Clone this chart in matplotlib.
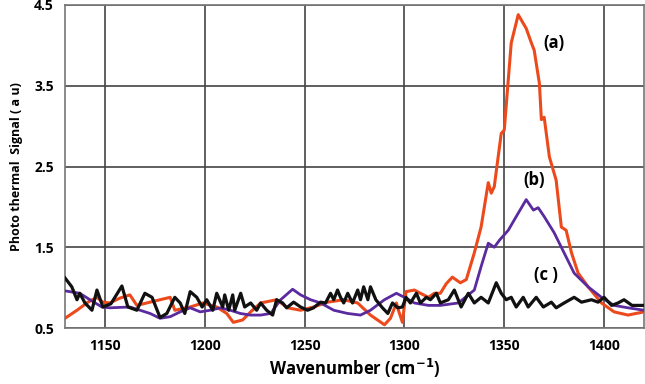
import matplotlib.pyplot as plt

# Photothermal spectra
wn_a = [1130, 1136, 1141.5, 1146, 1149, 1152.5, 1157.5, 1162.5, 1166, 1172.6, 1177.6,
        1182.7, 1185, 1192.7, 1199, 1206, 1211, 1214.3, 1219, 1223, 1228, 1236, 1241.5,
        1248, 1254.5, 1261.5, 1269.6, 1276.6, 1283, 1290, 1293, 1296, 1297, 1299, 1300.8,
        1305, 1308, 1312, 1315, 1318, 1321, 1324, 1328, 1331, 1335, 1338.4, 1342, 1343.5,
        1345, 1348.5, 1350, 1353.5, 1357, 1361, 1363.6, 1365, 1367.6, 1368.6, 1370, 1372.6,
        1376, 1378.6, 1381, 1383.7, 1387, 1392, 1398.7, 1405, 1412, 1420]
sig_a = [0.62, 0.72, 0.82, 0.88, 0.82, 0.81, 0.87, 0.91, 0.78, 0.82, 0.85,
         0.88, 0.72, 0.76, 0.81, 0.76, 0.68, 0.57, 0.60, 0.70, 0.81, 0.85, 0.75,
         0.72, 0.76, 0.82, 0.85, 0.81, 0.66, 0.54, 0.62, 0.81, 0.72, 0.57, 0.95,
         0.97, 0.93, 0.88, 0.93, 0.93, 1.05, 1.13, 1.06, 1.10, 1.43, 1.75, 2.30, 2.17,
         2.25, 2.91, 2.95, 4.03, 4.38, 4.21, 4.03, 3.94, 3.53, 3.08, 3.11, 2.62,
         2.33, 1.75, 1.71, 1.43, 1.18, 1.01, 0.81, 0.70, 0.66, 0.70]

wn_b = [1130, 1137.4, 1142.5, 1148.5, 1152.5, 1162.5, 1167.6, 1172.6, 1177.6, 1182.7,
        1187.7, 1192.7, 1197.7, 1202.8, 1207.8, 1212.8, 1217.8, 1222.9, 1228, 1233, 1238,
        1244, 1248, 1253, 1258, 1264.6, 1271.6, 1278, 1283, 1290, 1296, 1300, 1305, 1312,
        1318, 1327, 1335, 1338.4, 1342, 1345, 1347.7, 1352, 1356, 1361, 1364.6, 1367, 1370,
        1375, 1380, 1385, 1392, 1398.7, 1405, 1412, 1420]
sig_b = [0.96, 0.93, 0.85, 0.76, 0.75, 0.76, 0.72, 0.68, 0.62, 0.64,
         0.70, 0.75, 0.70, 0.72, 0.75, 0.72, 0.68, 0.66, 0.66, 0.68, 0.85,
         0.98, 0.91, 0.85, 0.81, 0.72, 0.68, 0.66, 0.72, 0.85, 0.93, 0.88, 0.81, 0.78,
         0.78, 0.81, 0.97, 1.26, 1.55, 1.50, 1.59, 1.71, 1.88, 2.09, 1.96, 1.99, 1.88,
         1.68, 1.43, 1.18, 1.01, 0.88, 0.78, 0.75, 0.72]

wn_c = [1130, 1133.4, 1136, 1137.4, 1140, 1143.5, 1146, 1149, 1153, 1158.5, 1161.5, 1166,
        1170, 1173.6, 1177.6, 1181, 1185, 1187.7, 1190, 1192.7, 1196, 1198.7, 1201, 1204,
        1206, 1209, 1210, 1212, 1214, 1215, 1218, 1220, 1223, 1226, 1228, 1231, 1234, 1236,
        1239, 1241, 1244.5, 1248, 1251.5, 1254.5, 1258, 1260.5, 1263, 1264.6, 1266.5, 1268,
        1269.6, 1271.6, 1274, 1276.6, 1278, 1279.6, 1281.7, 1283, 1285.7, 1289, 1291.7, 1294,
        1296.7, 1299, 1300.8, 1303, 1306, 1308, 1311, 1313, 1316, 1318, 1322, 1325, 1328.4,
        1332, 1335, 1338.4, 1342, 1346, 1348.5, 1351, 1353.5, 1356, 1359.5, 1362, 1366,
        1369.6, 1373.6, 1376, 1380, 1385, 1388.7, 1393.7, 1397, 1400, 1403.8, 1407, 1410,
        1414, 1420]
sig_c = [1.12, 1.01, 0.85, 0.93, 0.81, 0.72, 0.97, 0.76, 0.80, 1.02, 0.76, 0.72,
         0.93, 0.88, 0.63, 0.68, 0.88, 0.81, 0.68, 0.95, 0.88, 0.76, 0.85, 0.72,
         0.93, 0.76, 0.91, 0.72, 0.91, 0.72, 0.93, 0.76, 0.81, 0.72, 0.81, 0.72, 0.66, 0.85,
         0.81, 0.75, 0.82, 0.76, 0.72, 0.75, 0.82, 0.81, 0.93, 0.85, 0.97, 0.88,
         0.81, 0.93, 0.81, 0.97, 0.85, 1.01, 0.85, 1.01, 0.85, 0.75, 0.68, 0.81,
         0.75, 0.76, 0.88, 0.81, 0.93, 0.81, 0.88, 0.85, 0.93, 0.81, 0.85, 0.97, 0.76,
         0.93, 0.81, 0.88, 0.81, 1.06, 0.93, 0.85, 0.88, 0.76, 0.88, 0.76, 0.88,
         0.76, 0.82, 0.75, 0.81, 0.88, 0.82, 0.85, 0.82, 0.88, 0.78, 0.81, 0.85,
         0.78, 0.78]

x_ticks = [1150, 1200, 1250, 1300, 1350, 1400]
y_ticks = [0.5, 1.5, 2.5, 3.5, 4.5]

plt.rcParams['font.family'] = ['Open Sans', 'DejaVu Sans']

fig = plt.figure(figsize=(6.45, 3.84), dpi=100)
ax = fig.add_axes([65 / 645, 1 - 328 / 384, 579 / 645, 323 / 384])

ax.plot(wn_a, sig_a, color='#ec4a1c', lw=2.2, zorder=3)
ax.plot(wn_b, sig_b, color='#5a2a9e', lw=2.0, zorder=4)
ax.plot(wn_c, sig_c, color='#111111', lw=2.3, zorder=5)

ax.text(1375, 4.03, '(a)', fontsize=12, fontweight='bold', ha='center', va='center')
ax.text(1365, 2.33, '(b)', fontsize=12, fontweight='bold', ha='center', va='center')
ax.text(1371, 1.16, '(c )', fontsize=12, fontweight='bold', ha='center', va='center')

ax.set_xlim(1130, 1420)
ax.set_ylim(0.5, 4.5)
ax.set_xticks(x_ticks)
ax.set_yticks(y_ticks)
ax.set_xticklabels([str(t) for t in x_ticks], fontweight='bold', fontsize=10)
ax.set_yticklabels([str(t) for t in y_ticks], fontweight='bold', fontsize=10)
ax.tick_params(length=0, pad=8)
ax.grid(color='#444444', lw=1.2)
ax.set_axisbelow(True)
for sp in ax.spines.values():
    sp.set_color('#777777')
    sp.set_linewidth(1.2)

ax.set_xlabel('Wavenumber (cm$^{\\mathbf{-1}}$)', fontsize=12, fontweight='bold', labelpad=3)
ax.set_ylabel('Photo thermal  Signal ( a u)', fontsize=9, fontweight='bold', labelpad=8)

plt.savefig('out.png', dpi=100)
